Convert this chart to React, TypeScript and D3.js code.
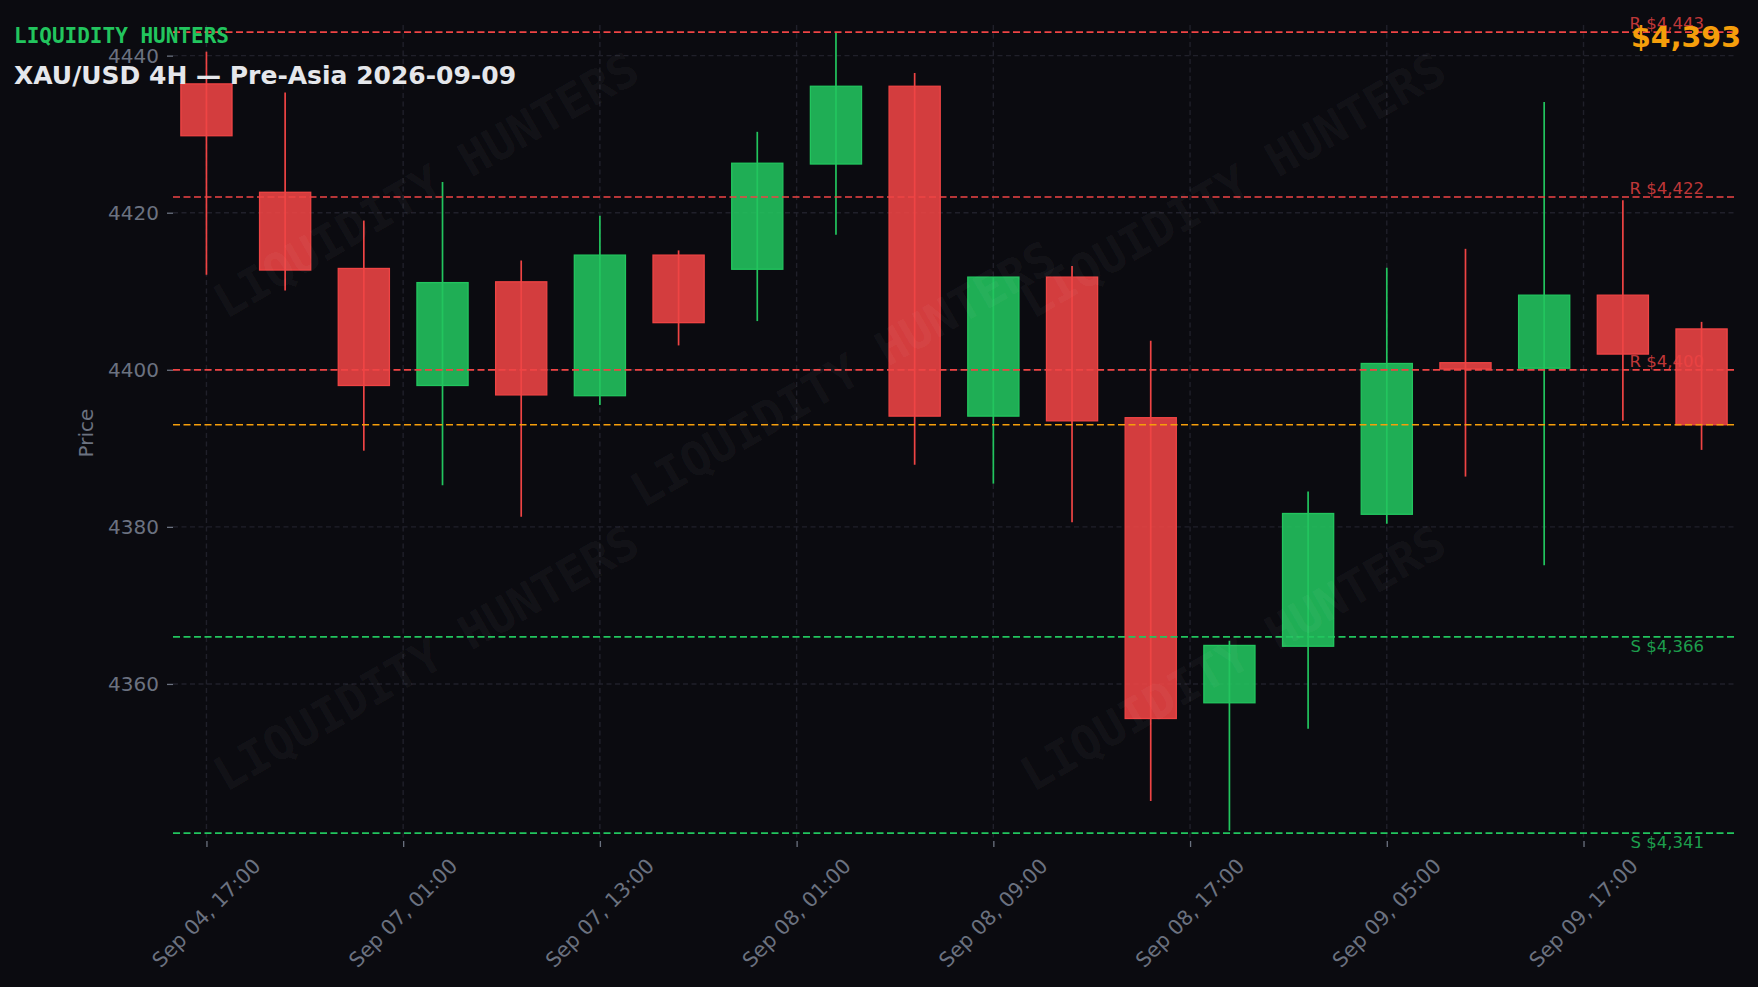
import { useEffect, useRef } from "react"
import * as d3 from "d3"

// OHLC values, one per 4h candle
const opens = [4436.4, 4422.6, 4412.9, 4398.0, 4411.2, 4396.7, 4414.6, 4412.8, 4426.2, 4436.1, 4394.1, 4411.8, 4393.9, 4357.6, 4364.8, 4381.6, 4400.9, 4400.2, 4409.5, 4405.2]
const highs = [4440.5, 4435.3, 4419.0, 4423.9, 4413.9, 4419.6, 4415.2, 4430.3, 4443.0, 4437.8, 4411.8, 4413.2, 4403.7, 4365.5, 4384.5, 4413.0, 4415.4, 4434.1, 4421.6, 4406.1]
const lows = [4412.1, 4410.1, 4389.7, 4385.3, 4381.3, 4395.5, 4403.1, 4406.2, 4417.2, 4387.9, 4385.5, 4380.6, 4345.1, 4341.3, 4354.3, 4380.4, 4386.4, 4375.1, 4393.5, 4389.8]
const closes = [4429.8, 4412.7, 4398.0, 4411.1, 4396.8, 4414.6, 4406.0, 4426.3, 4436.1, 4394.1, 4411.8, 4393.5, 4355.6, 4364.9, 4381.7, 4400.8, 4400.1, 4409.5, 4402.0, 4393.0]

const xTickPositions = [0, 2.5, 5, 7.5, 10, 12.5, 15, 17.5]
const xTickLabels = ["Sep 04, 17:00", "Sep 07, 01:00", "Sep 07, 13:00", "Sep 08, 01:00", "Sep 08, 09:00", "Sep 08, 17:00", "Sep 09, 05:00", "Sep 09, 17:00"]
const yTicks = [4360, 4380, 4400, 4420, 4440]

const resistanceLevels = [4443, 4422, 4400]
const supportLevels = [4366, 4341]
const currentPrice = 4393

const W = 1758
const H = 987
const BG = "#0b0b10"
const RED = "#ef4444"
const GREEN = "#22c55e"
const ORANGE = "#f59e0b"
const MUTED = "#6b7280"
const FONT = "DejaVu Sans, sans-serif"
const MONO = "DejaVu Sans Mono, monospace"

export default function App() {
  const svgRef = useRef<SVGSVGElement>(null)

  useEffect(() => {
    document.body.style.margin = "0"
    document.body.style.background = BG
    if (!svgRef.current) return

    const root = d3.select(svgRef.current)
    root.selectAll("*").remove()

    // Axes box in pixels
    const left = 173
    const right = 1735
    const top = 25
    const bottom = 841

    const x = d3.scaleLinear().domain([-0.425, opens.length - 1 + 0.425]).range([left, right])
    const y = d3.scaleLinear().domain([4340.0, 4443.9]).range([bottom, top])
    const fmt = d3.format(",.0f")

    root.append("rect").attr("width", W).attr("height", H).attr("fill", BG)

    // Grid
    const grid = root.append("g")
    grid
      .selectAll("line.hg")
      .data(yTicks)
      .enter()
      .append("line")
      .attr("x1", left)
      .attr("x2", right)
      .attr("y1", (d) => y(d))
      .attr("y2", (d) => y(d))
      .attr("stroke", "#20202a")
      .attr("stroke-width", 1.4)
      .attr("stroke-dasharray", "5,3.5")
    grid
      .selectAll("line.vg")
      .data(xTickPositions)
      .enter()
      .append("line")
      .attr("x1", (d) => x(d))
      .attr("x2", (d) => x(d))
      .attr("y1", top)
      .attr("y2", bottom)
      .attr("stroke", "#20202a")
      .attr("stroke-width", 1.4)
      .attr("stroke-dasharray", "5,3.5")

    // Y axis
    const yAxis = root
      .append("g")
      .attr("transform", `translate(${left},0)`)
      .call(d3.axisLeft(y).tickValues(yTicks).tickSize(6).tickPadding(8).tickFormat(d3.format("d")))
    yAxis.select(".domain").remove()
    yAxis.selectAll("line").attr("stroke", MUTED).attr("stroke-width", 1.3)
    yAxis.selectAll("text").attr("fill", MUTED).style("font-family", FONT).style("font-size", "20px")

    // X axis
    const xAxis = root
      .append("g")
      .attr("transform", `translate(0,${bottom})`)
      .call(d3.axisBottom(x).tickValues(xTickPositions).tickSize(6).tickFormat(() => ""))
    xAxis.select(".domain").remove()
    xAxis.selectAll("line").attr("stroke", MUTED).attr("stroke-width", 1.3)

    root
      .append("g")
      .selectAll("text")
      .data(xTickPositions)
      .enter()
      .append("text")
      .attr("transform", (d) => `translate(${x(d)},${bottom + 72}) rotate(-45)`)
      .attr("text-anchor", "middle")
      .attr("dominant-baseline", "central")
      .attr("fill", MUTED)
      .style("font-family", FONT)
      .style("font-size", "20.5px")
      .text((d, i) => xTickLabels[i])

    // Y axis label
    root
      .append("text")
      .attr("transform", `translate(86,${(top + bottom) / 2}) rotate(-90)`)
      .attr("text-anchor", "middle")
      .attr("dominant-baseline", "central")
      .attr("fill", MUTED)
      .style("font-family", FONT)
      .style("font-size", "20px")
      .text("Price")

    // Candles
    const idx = d3.range(opens.length)
    const bodyW = 0.65 * (x(1) - x(0))
    const candles = root.append("g")
    candles
      .selectAll("line.wick")
      .data(idx)
      .enter()
      .append("line")
      .attr("x1", (i) => x(i))
      .attr("x2", (i) => x(i))
      .attr("y1", (i) => y(highs[i]))
      .attr("y2", (i) => y(lows[i]))
      .attr("stroke", (i) => (closes[i] >= opens[i] ? GREEN : RED))
      .attr("stroke-width", 1.7)
    candles
      .selectAll("rect.body")
      .data(idx)
      .enter()
      .append("rect")
      .attr("x", (i) => x(i) - bodyW / 2)
      .attr("width", bodyW)
      .attr("y", (i) => y(Math.max(opens[i], closes[i])))
      .attr("height", (i) => Math.max(1, Math.abs(y(opens[i]) - y(closes[i]))))
      .attr("fill", (i) => (closes[i] >= opens[i] ? GREEN : RED))
      .attr("fill-opacity", 0.88)
      .attr("stroke", (i) => (closes[i] >= opens[i] ? GREEN : RED))
      .attr("stroke-width", 1.3)

    // Level lines
    const levels = root.append("g")
    const drawLevel = (v: number, color: string) =>
      levels
        .append("line")
        .attr("x1", left)
        .attr("x2", right)
        .attr("y1", y(v))
        .attr("y2", y(v))
        .attr("stroke", color)
        .attr("stroke-width", 1.7)
        .attr("stroke-dasharray", "7,3.5")
    resistanceLevels.forEach((v) => drawLevel(v, RED))
    supportLevels.forEach((v) => drawLevel(v, GREEN))
    drawLevel(currentPrice, ORANGE)

    levels
      .selectAll("text.res")
      .data(resistanceLevels)
      .enter()
      .append("text")
      .attr("x", 1704)
      .attr("y", (d) => y(d) - 3)
      .attr("text-anchor", "end")
      .attr("fill", RED)
      .attr("fill-opacity", 0.8)
      .style("font-family", FONT)
      .style("font-size", "16.5px")
      .text((d) => `R $${fmt(d)}`)
    levels
      .selectAll("text.sup")
      .data(supportLevels)
      .enter()
      .append("text")
      .attr("x", 1704)
      .attr("y", (d) => y(d) + 15)
      .attr("text-anchor", "end")
      .attr("fill", GREEN)
      .attr("fill-opacity", 0.8)
      .style("font-family", FONT)
      .style("font-size", "16.5px")
      .text((d) => `S $${fmt(d)}`)

    // Watermarks
    const marks: [number, number][] = [
      [426, 185],
      [843, 374],
      [1233, 185],
      [426, 658],
      [1233, 658],
    ]
    root
      .append("g")
      .selectAll("text")
      .data(marks)
      .enter()
      .append("text")
      .attr("transform", (d) => `translate(${d[0]},${d[1]}) rotate(-30)`)
      .attr("text-anchor", "middle")
      .attr("dominant-baseline", "central")
      .attr("fill", "#ffffff")
      .attr("fill-opacity", 0.05)
      .style("font-family", MONO)
      .style("font-weight", "bold")
      .style("font-size", "47px")
      .text("LIQUIDITY HUNTERS")

    // Header texts
    root
      .append("text")
      .attr("x", 14)
      .attr("y", 43)
      .attr("fill", GREEN)
      .style("font-family", MONO)
      .style("font-weight", "bold")
      .style("font-size", "21px")
      .text("LIQUIDITY HUNTERS")
    root
      .append("text")
      .attr("x", 14)
      .attr("y", 84)
      .attr("fill", "#e5e7eb")
      .style("font-family", FONT)
      .style("font-weight", "bold")
      .style("font-size", "25px")
      .text("XAU/USD 4H — Pre-Asia 2026-09-09")
    root
      .append("text")
      .attr("x", 1741)
      .attr("y", 47)
      .attr("text-anchor", "end")
      .attr("fill", ORANGE)
      .style("font-family", FONT)
      .style("font-weight", "bold")
      .style("font-size", "28.5px")
      .text(`$${fmt(currentPrice)}`)
  }, [])

  return <svg ref={svgRef} width={W} height={H} style={{ display: "block" }}></svg>
}
